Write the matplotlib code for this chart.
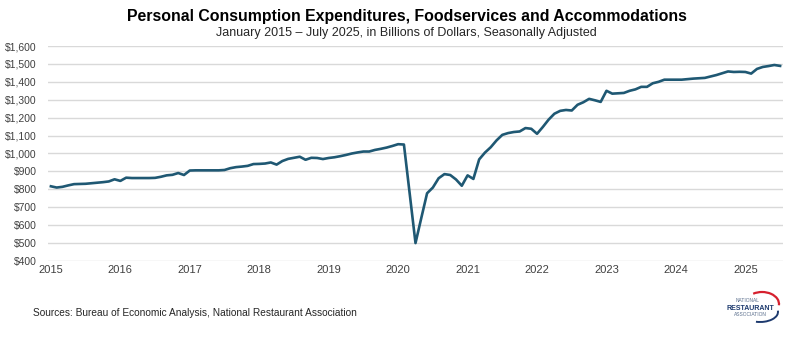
import matplotlib.pyplot as plt
from matplotlib.patches import Arc
import numpy as np

# monthly values, Jan 2015 - Jul 2025 (billions of dollars)
y2015 = [817, 810, 814, 822, 829, 830, 831, 834, 837, 840, 844, 856]
y2016 = [847, 865, 863, 863, 863, 863, 864, 870, 878, 881, 891, 880]
y2017 = [905, 906, 906, 906, 906, 906, 908, 918, 924, 927, 931, 941]
y2018 = [942, 944, 950, 938, 958, 970, 976, 982, 965, 976, 975, 969]
y2019 = [975, 979, 985, 992, 1000, 1006, 1011, 1011, 1020, 1026, 1033, 1042]
y2020 = [1052, 1050, 775, 500, 640, 778, 810, 862, 885, 880, 855, 820]
y2021 = [878, 858, 967, 1005, 1035, 1073, 1104, 1114, 1120, 1123, 1142, 1138]
y2022 = [1110, 1148, 1189, 1222, 1238, 1243, 1240, 1272, 1286, 1305, 1297, 1288]
y2023 = [1350, 1334, 1336, 1338, 1350, 1358, 1372, 1372, 1392, 1400, 1412, 1412]
y2024 = [1412, 1412, 1415, 1418, 1420, 1422, 1430, 1438, 1448, 1458, 1455, 1456]
y2025 = [1455, 1446, 1472, 1483, 1488, 1494, 1489]

years = ["2015", "2016", "2017", "2018", "2019", "2020",
         "2021", "2022", "2023", "2024", "2025"]
y_ticks = [400, 500, 600, 700, 800, 900, 1000, 1100, 1200, 1300, 1400, 1500, 1600]

values = y2015 + y2016 + y2017 + y2018 + y2019 + y2020 + y2021 + y2022 + y2023 + y2024 + y2025
months = np.arange(len(values))

FONT = "Liberation Sans"
LINE_COLOR = "#1f5873"

fig = plt.figure(figsize=(7.97, 3.38), dpi=100)
ax = fig.add_axes([48 / 797, 1 - 261 / 338, 735 / 797, 215 / 338])

ax.plot(months, values, color=LINE_COLOR, linewidth=1.9, solid_joinstyle="round")

ax.set_xlim(-0.5, 126.5)
ax.set_ylim(400, 1600)
ax.set_yticks(y_ticks)
ax.set_yticklabels(["${:,}".format(v) for v in y_ticks], fontsize=7.5, family=FONT, color="#404040")
ax.set_xticks(np.arange(0, 12 * len(years), 12))
ax.set_xticklabels(years, fontsize=8, family=FONT, color="#404040")
ax.tick_params(axis="both", length=0)
ax.tick_params(axis="y", pad=8)
ax.tick_params(axis="x", pad=3)

ax.grid(axis="y", color="#d9d9d9", linewidth=1.0)
ax.set_axisbelow(True)
for s in ax.spines.values():
    s.set_visible(False)

# titles
fig.text(0.51, 1 - 17 / 338, "Personal Consumption Expenditures, Foodservices and Accommodations",
         ha="center", va="center", fontsize=11.4, fontweight="bold", family=FONT, color="#000000")
fig.text(0.51, 1 - 33 / 338, "January 2015 \u2013 July 2025, in Billions of Dollars, Seasonally Adjusted",
         ha="center", va="center", fontsize=9, family=FONT, color="#262626")

# source
fig.text(33 / 797, 1 - 313 / 338, "Sources: Bureau of Economic Analysis, National Restaurant Association",
         ha="left", va="center", fontsize=7.3, family=FONT, color="#262626")

# logo
fig.text(748 / 797, 1 - 301 / 338, "NATIONAL", ha="center", va="center", fontsize=3.5,
         family=FONT, color="#5a6e8c")
fig.text(750 / 797, 1 - 308 / 338, "RESTAURANT", ha="center", va="center", fontsize=5,
         fontweight="bold", family=FONT, color="#1d3a6e")
fig.text(750 / 797, 1 - 315 / 338, "ASSOCIATION", ha="center", va="center", fontsize=3.5,
         family=FONT, color="#5a6e8c")
fig.add_artist(Arc((762 / 797, 1 - 304 / 338), 34 / 797, 24 / 338, theta1=-10, theta2=110,
                   color="#d6202e", linewidth=1.6, transform=fig.transFigure))
fig.add_artist(Arc((760 / 797, 1 - 312 / 338), 36 / 797, 20 / 338, theta1=-100, theta2=10,
                   color="#1d3a6e", linewidth=1.4, transform=fig.transFigure))

fig.savefig("out.png", dpi=100)
